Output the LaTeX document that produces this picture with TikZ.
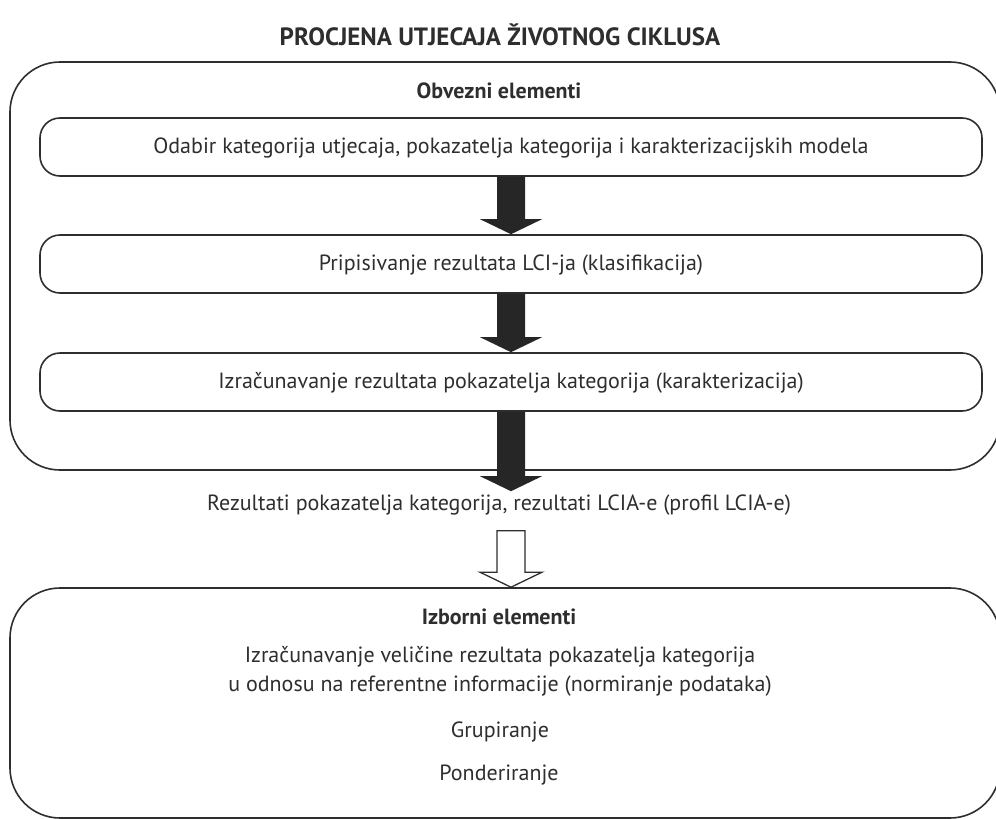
\documentclass[tikz,border=0pt]{standalone}
\usepackage{fontspec}
\setmainfont{PT Sans}
\usetikzlibrary{calc}
\definecolor{ink}{gray}{0.18}
\definecolor{arrowink}{gray}{0.15}
\tikzset{
  outerbox/.style={draw=ink, line width=1.6pt, rounded corners=50pt, minimum width=990pt},
  innerbox/.style={draw=ink, line width=1.6pt, rounded corners=20pt, minimum width=942pt, minimum height=58pt, text depth=3pt},
  txt/.style={text=ink, font=\fontsize{22}{29}\selectfont},
  headtxt/.style={text=ink, font=\fontsize{22}{29}\selectfont\bfseries}
}

\begin{document}
\begin{tikzpicture}[x=1pt, y=-1pt]
  \useasboundingbox (0,0) rectangle (996,819);
  \clip (0,0) rectangle (996,819);
  \node [text=ink, font=\fontsize{25}{30}\selectfont\bfseries] (title) at (500,35) {PROCJENA UTJECAJA ŽIVOTNOG CIKLUSA};
  \node [outerbox, minimum height=408pt] (obvezni) at (505,266) {};
  \node [headtxt] (obvhead) at (499,91) {Obvezni elementi};
  \node [innerbox, txt] (odabir) at (511,147) {Odabir kategorija utjecaja, pokazatelja kategorija i karakterizacijskih modela};
  \node [innerbox, txt] (pripis) at (511,264) {Pripisivanje rezultata LCI-ja (klasifikacija)};
  \node [innerbox, txt] (izrac) at (511,382) {Izračunavanje rezultata pokazatelja kategorija (karakterizacija)};
  \node [txt] (rezult) at (499,505) {Rezultati pokazatelja kategorija, rezultati LCIA-e (profil LCIA-e)};
  \node [outerbox, minimum height=230pt] (izborni) at (505,703) {};
  \node [headtxt] (izbhead) at (499,617) {Izborni elementi};
  \node [txt, align=center] (normir) at (500,671) {Izračunavanje veličine rezultata pokazatelja kategorija\\u odnosu na referentne informacije (normiranje podataka)};
  \node [txt] (grupir) at (500,732) {Grupiranje};
  \node [txt] (ponder) at (499,775) {Ponderiranje};
  % black block arrows
  \foreach \a/\b in {odabir/pripis, pripis/izrac, izrac/rezult} {
    \coordinate (tip) at (\a.south |- \b.north);
    \fill [arrowink] ($(\a.south)+(-14,0)$) -- ($(tip)+(-14,-15)$) -- ($(tip)+(-31,-15)$)
      -- (tip) -- ($(tip)+(31,-15)$) -- ($(tip)+(14,-15)$) -- ($(\a.south)+(14,0)$) -- cycle;
  }
  % white arrow
  \coordinate (wtop) at ($(izrac.south |- rezult.south)+(0,12)$);
  \coordinate (wtip) at (wtop |- izborni.north);
  \draw [ink, line width=1.3pt, fill=white, line join=miter] ($(wtop)+(-14,0)$) -- ($(wtip)+(-14,-15)$) -- ($(wtip)+(-31,-15)$)
    -- (wtip) -- ($(wtip)+(31,-15)$) -- ($(wtip)+(14,-15)$) -- ($(wtop)+(14,0)$) -- cycle;
\end{tikzpicture}
\end{document}
